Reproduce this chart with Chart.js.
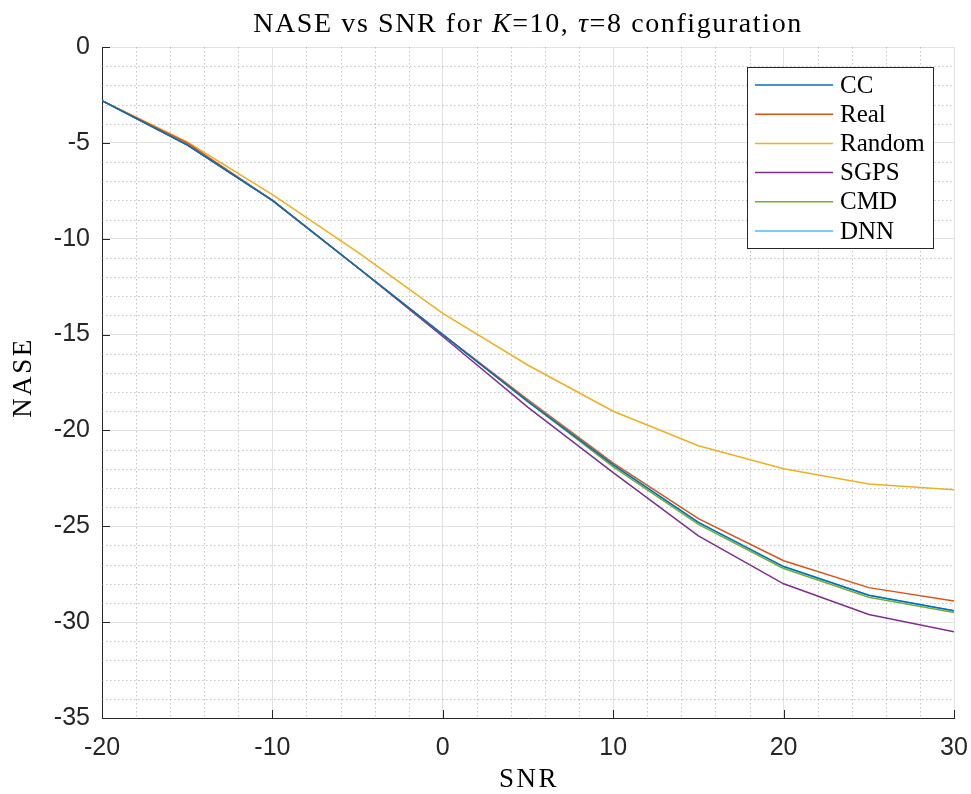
<!DOCTYPE html>
<html>
<head>
<meta charset="utf-8">
<script src="https://cdn.jsdelivr.net/npm/chart.js@4/dist/chart.umd.min.js"></script>
<style>
  body { margin: 0; background: #fff; }
  #grafica { display: block; }
</style>
</head>
<body>
<canvas id="grafica" width="971" height="794"></canvas>
<script>
// Datos (NASE en dB vs SNR)
const snr = [-20, -15, -10, -5, 0, 5, 10, 15, 20, 25, 30];

const nombres = ['CC', 'Real', 'Random', 'SGPS', 'CMD', 'DNN'];
const colores = ['#0072BD', '#D95319', '#EDB120', '#7E2F8E', '#77AC30', '#4DBEEE'];

const cc     = [-2.8, -5.1, -8.0, -11.5, -15.0, -18.5, -21.8, -24.8, -27.1, -28.6, -29.4];
const real   = [-2.8, -5.0, -8.0, -11.5, -15.0, -18.4, -21.7, -24.6, -26.8, -28.2, -28.9];
const random = [-2.8, -4.95, -7.7, -10.7, -13.9, -16.6, -19.0, -20.8, -22.0, -22.8, -23.1];
const sgps   = [-2.8, -5.1, -8.0, -11.5, -15.1, -18.8, -22.2, -25.5, -28.0, -29.6, -30.5];
const cmd    = [-2.8, -5.1, -8.0, -11.5, -15.0, -18.5, -21.9, -24.9, -27.2, -28.7, -29.5];
const dnn    = [-2.8, -5.1, -8.0, -11.5, -15.0, -18.5, -21.8, -24.8, -27.1, -28.6, -29.4];

const series = [cc, real, random, sgps, cmd, dnn];

// Ticks (mayores y menores)
const xMin = -20, xMax = 30, xPaso = 10, xPasoMenor = 2;
const yMin = -35, yMax = 0, yPaso = 5, yPasoMenor = 1;

const colorEje = '#262626';
const serif = '"Liberation Serif", "DejaVu Serif", serif';
const sans = '"Liberation Sans", Arial, sans-serif';

// Rejilla menor punteada + marcas hacia adentro (estilo MATLAB)
const rejillaMenor = {
    id: 'rejillaMenor',
    beforeDatasetsDraw(chart) {
        const { ctx, chartArea: a, scales: { x, y } } = chart;
        ctx.save();
        ctx.strokeStyle = 'rgba(150,150,150,0.55)';
        ctx.lineWidth = 1;
        ctx.setLineDash([1.5, 2.5]);
        ctx.beginPath();
        for (let v = xMin + xPasoMenor; v < xMax; v += xPasoMenor) {
            if (v % xPaso === 0) continue;
            const px = Math.round(x.getPixelForValue(v)) + 0.5;
            ctx.moveTo(px, a.top); ctx.lineTo(px, a.bottom);
        }
        for (let v = yMin + yPasoMenor; v < yMax; v += yPasoMenor) {
            if (v % yPaso === 0) continue;
            const py = Math.round(y.getPixelForValue(v)) + 0.5;
            ctx.moveTo(a.left, py); ctx.lineTo(a.right, py);
        }
        ctx.stroke();
        ctx.setLineDash([]);
        // marcas
        ctx.strokeStyle = colorEje;
        ctx.beginPath();
        for (let v = xMin; v <= xMax; v += xPaso) {
            const px = Math.round(x.getPixelForValue(v)) + 0.5;
            ctx.moveTo(px, a.bottom); ctx.lineTo(px, a.bottom - 8);
        }
        for (let v = yMin; v <= yMax; v += yPaso) {
            const py = Math.round(y.getPixelForValue(v)) + 0.5;
            ctx.moveTo(a.left, py); ctx.lineTo(a.left + 8, py);
        }
        ctx.stroke();
        ctx.restore();
    }
};

// Leyenda dentro del área, esquina superior derecha
const leyenda = {
    id: 'leyendaCaja',
    afterDatasetsDraw(chart) {
        const { ctx } = chart;
        const x0 = 747.5, y0 = 67.5, w = 186, h = 181;
        ctx.save();
        ctx.fillStyle = '#fff';
        ctx.fillRect(x0, y0, w, h);
        ctx.strokeStyle = colorEje;
        ctx.lineWidth = 1;
        ctx.strokeRect(x0, y0, w, h);
        ctx.font = '25px ' + serif;
        ctx.textBaseline = 'middle';
        ctx.fillStyle = '#000';
        chart.data.datasets.forEach((ds, i) => {
            const yy = 85 + i * 29.2;
            ctx.strokeStyle = ds.borderColor;
            ctx.lineWidth = 1.5;
            ctx.beginPath();
            ctx.moveTo(755, yy); ctx.lineTo(833, yy);
            ctx.stroke();
            ctx.fillText(ds.label, 840, yy + 1);
        });
        ctx.restore();
    }
};

// Título y etiquetas de ejes con fuente serif
const textos = {
    id: 'textos',
    afterDraw(chart) {
        const { ctx, chartArea: a } = chart;
        const cx = (a.left + a.right) / 2;
        ctx.save();
        ctx.fillStyle = '#000';
        ctx.textBaseline = 'alphabetic';

        // título con partes en cursiva
        const partes = [
            ['NASE vs SNR for ', false], ['K', true], ['=10, ', false],
            ['τ', true], ['=8 configuration', false]
        ];
        ctx.letterSpacing = '1.6px';
        let total = 0;
        partes.forEach(p => {
            ctx.font = (p[1] ? 'italic ' : '') + '28px ' + serif;
            total += ctx.measureText(p[0]).width;
        });
        let tx = cx - total / 2;
        partes.forEach(p => {
            ctx.font = (p[1] ? 'italic ' : '') + '28px ' + serif;
            ctx.textAlign = 'left';
            ctx.fillText(p[0], tx, 32);
            tx += ctx.measureText(p[0]).width;
        });

        ctx.letterSpacing = '2.5px';
        ctx.font = '27px ' + serif;
        ctx.textAlign = 'center';
        ctx.fillText('SNR', cx + 1, 787);

        ctx.translate(31, (a.top + a.bottom) / 2 - 4);
        ctx.rotate(-Math.PI / 2);
        ctx.fillText('NASE', 1, 0);
        ctx.restore();
    }
};

new Chart(document.getElementById('grafica'), {
    type: 'line',
    data: {
        datasets: nombres.map((n, i) => ({
            label: n,
            data: snr.map((s, k) => ({ x: s, y: series[i][k] })),
            borderColor: colores[i],
            backgroundColor: colores[i],
            borderWidth: 1.5,
            pointRadius: 0,
            tension: 0,
            fill: false
        }))
    },
    options: {
        responsive: false,
        animation: false,
        layout: { padding: { top: 47, right: 17, left: 0, bottom: 0 } },
        plugins: {
            legend: { display: false },
            title: { display: false },
            tooltip: { enabled: false }
        },
        scales: {
            x: {
                type: 'linear',
                min: xMin, max: xMax,
                afterFit: s => { s.height = 76; s.paddingLeft = 0; s.paddingRight = 0; },
                ticks: { stepSize: xPaso, font: { size: 25, family: sans }, color: colorEje, padding: 15, maxRotation: 0 },
                grid: { color: '#e2e2e2', drawTicks: false },
                border: { color: colorEje, width: 1 }
            },
            y: {
                min: yMin, max: yMax,
                afterFit: s => { s.width = 102; s.paddingTop = 0; s.paddingBottom = 0; },
                ticks: { stepSize: yPaso, font: { size: 25, family: sans }, color: colorEje, padding: 12 },
                grid: { color: '#e2e2e2', drawTicks: false },
                border: { color: colorEje, width: 1 }
            }
        }
    },
    plugins: [rejillaMenor, leyenda, textos]
});
</script>
</body>
</html>
